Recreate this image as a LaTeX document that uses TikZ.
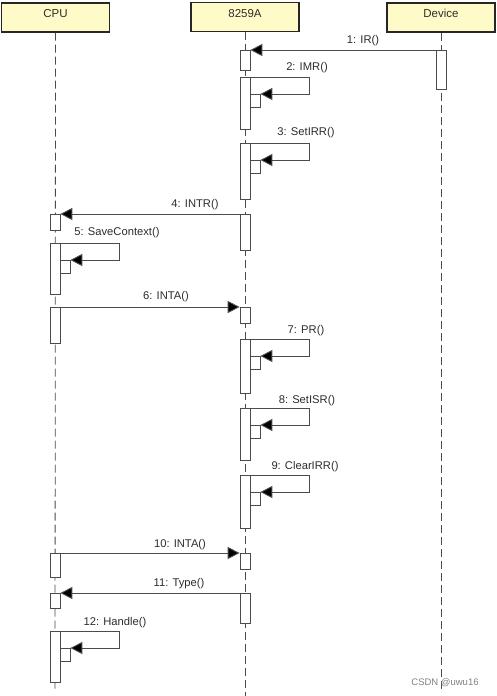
\documentclass[tikz,border=0pt]{standalone}
\usepackage{fontspec}
\setmainfont{Liberation Sans}
\usetikzlibrary{arrows.meta}
\definecolor{hdrfill}{RGB}{255,251,201}
\definecolor{linec}{RGB}{75,75,75}
\definecolor{txtc}{RGB}{45,45,45}
\begin{document}
\begin{tikzpicture}[x=1pt,y=-1pt,
  hdr/.style={draw=black!85, line width=1.4pt, fill=hdrfill, minimum width=108pt, minimum height=29pt, inner sep=0pt, text height=8pt, text depth=8pt, font=\fontsize{11.5}{13}\selectfont, text=txtc},
  lifeline/.style={draw=linec, line width=0.8pt, dash pattern=on 8pt off 4pt},
  actbar/.style={draw=linec, fill=white, line width=0.7pt, minimum width=10pt, inner sep=0pt, anchor=north},
  msg/.style={draw=linec, line width=0.9pt, -{Triangle[length=12pt,width=12pt,fill=black]}},
  lbl/.style={font=\fontsize{11.2}{13}\selectfont, text=txtc, inner sep=0pt},
  wm/.style={font=\fontsize{9.5}{11}\selectfont, text=black!50, inner sep=0pt}]
\fill[white] (0,0) rectangle (497,696);
\useasboundingbox (0,0) rectangle (497,696);
% headers
\node[hdr] (cpu) at (55.5,17.5) {CPU};
\node[hdr] (pic) at (245,17) {8259A};
\node[hdr] (dev) at (441,17.5) {Device};
% lifeline ends
\coordinate (cpuend) at (55,692);
\coordinate (picend) at (245,696);
\coordinate (devend) at (441,692);
\draw[lifeline] (cpu.south) -- (cpuend);
\draw[lifeline] (pic.south) -- (picend);
\draw[lifeline] (dev.south) -- (devend);
% activation bars
\node[actbar, minimum height=39pt] (d1) at (441,50) {};
\node[actbar, minimum height=20pt] (a1) at (245,50) {};
\node[actbar, minimum height=52pt] (a2) at (245,77) {};
\node[actbar, minimum height=13pt] (n2) at (255,94) {};
\node[actbar, minimum height=56pt] (a3) at (245,143) {};
\node[actbar, minimum height=13pt] (n3) at (255,160) {};
\node[actbar, minimum height=36pt] (a4) at (245,214) {};
\node[actbar, minimum height=16pt] (c4) at (55,214) {};
\node[actbar, minimum height=51pt] (c5) at (55,243) {};
\node[actbar, minimum height=13pt] (n5) at (65,260) {};
\node[actbar, minimum height=36pt] (c6) at (55,307) {};
\node[actbar, minimum height=16pt] (a6) at (245,307) {};
\node[actbar, minimum height=54pt] (a7) at (245,339) {};
\node[actbar, minimum height=13pt] (n7) at (255,356) {};
\node[actbar, minimum height=52pt] (a8) at (245,408) {};
\node[actbar, minimum height=13pt] (n8) at (255,425) {};
\node[actbar, minimum height=53pt] (a9) at (245,475) {};
\node[actbar, minimum height=13pt] (n9) at (255,492) {};
\node[actbar, minimum height=24pt] (c10) at (55,553) {};
\node[actbar, minimum height=16pt] (a10) at (245,553) {};
\node[actbar, minimum height=30pt] (a11) at (245,593) {};
\node[actbar, minimum height=15pt] (c11) at (55,593) {};
\node[actbar, minimum height=51pt] (c12) at (55,631) {};
\node[actbar, minimum height=13pt] (n12) at (65,648) {};
% messages
\draw[msg] (d1.north west) -- (a1.north east);
\draw[msg] (a2.north east) -- ++(59,0) |- (n2.north east);
\draw[msg] (a3.north east) -- ++(59,0) |- (n3.north east);
\draw[msg] (a4.north west) -- (c4.north east);
\draw[msg] (c5.north east) -- ++(59,0) |- (n5.north east);
\draw[msg] (c6.north east) -- (a6.north west);
\draw[msg] (a7.north east) -- ++(59,0) |- (n7.north east);
\draw[msg] (a8.north east) -- ++(59,0) |- (n8.north east);
\draw[msg] (a9.north east) -- ++(59,0) |- (n9.north east);
\draw[msg] (c10.north east) -- (a10.north west);
\draw[msg] (a11.north west) -- (c11.north east);
\draw[msg] (c12.north east) -- ++(59,0) |- (n12.north east);
% labels
\node[lbl] (l1) at (363,41) {1: IR()};
\node[lbl] (l2) at (307,68) {2: IMR()};
\node[lbl] (l3) at (306,133) {3: SetIRR()};
\node[lbl] (l4) at (195,205) {4: INTR()};
\node[lbl] (l5) at (117,233) {5: SaveContext()};
\node[lbl] (l6) at (166,297) {6: INTA()};
\node[lbl] (l7) at (306,331) {7: PR()};
\node[lbl] (l8) at (307,401) {8: SetISR()};
\node[lbl] (l9) at (305,467) {9: ClearIRR()};
\node[lbl] (l10) at (180,545) {10: INTA()};
\node[lbl] (l11) at (179,584) {11: Type()};
\node[lbl] (l12) at (115,623) {12: Handle()};
\node[wm] (csdn) at (445,683) {CSDN @uwu16};
\end{tikzpicture}
\end{document}
